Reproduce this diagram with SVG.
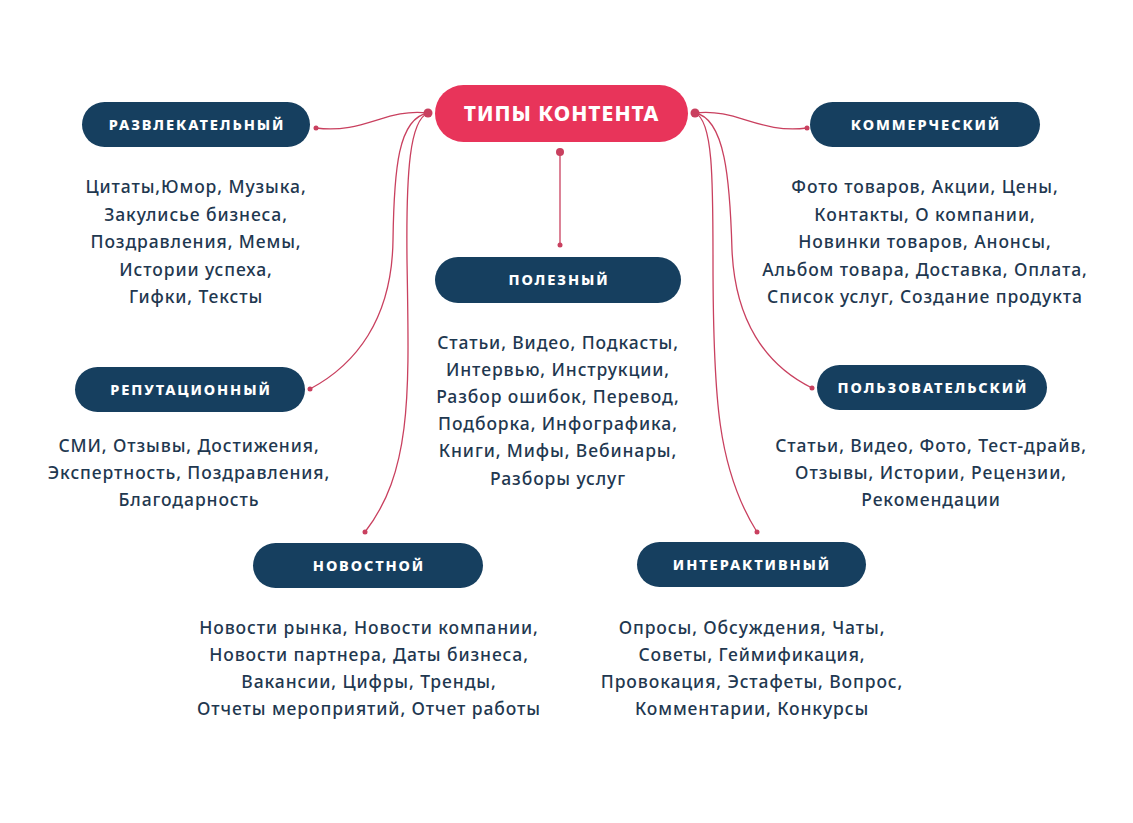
<svg xmlns="http://www.w3.org/2000/svg" width="1133" height="823" viewBox="0 0 1133 823">
<style>
.pill{fill:#163f5f}
.lbl{font-family:"Noto Sans","Liberation Sans",sans-serif;font-weight:800;font-size:14.5px;fill:#ffffff;letter-spacing:1.9px;text-anchor:middle}
.body{font-family:"Noto Sans","Liberation Sans",sans-serif;font-weight:500;font-size:17.5px;fill:#1f3850;letter-spacing:0.9px;text-anchor:middle}
.title{font-family:"Noto Sans","Liberation Sans",sans-serif;font-weight:800;font-size:21px;fill:#ffffff;letter-spacing:1px;text-anchor:middle}
.con{fill:none;stroke:#c9405f;stroke-width:1.3}
.dot{fill:#c9405f}
</style>
<rect width="1133" height="823" fill="#ffffff"/>
<g id="connectors">
<path class="con" d="M428,113 C385,108 365,134 316,128"/>
<path class="con" d="M428,113 C398,118 394,170 393,240 C392,320 355,365 310,389"/>
<path class="con" d="M428,113 C410,120 406,170 407,260 C409,390 413,470 365,532"/>
<path class="con" d="M695,113 C738,108 758,134 807,128"/>
<path class="con" d="M695,113 C725,118 730,180 732,250 C735,320 765,365 812,388"/>
<path class="con" d="M695,113 C713,120 713,180 713,260 C713,400 718,470 757,532"/>
<path class="con" d="M560,152 L560,245"/>
<circle class="dot" cx="428" cy="113" r="4.5"/>
<circle class="dot" cx="695" cy="113" r="4.5"/>
<circle class="dot" cx="560" cy="152" r="4"/>
<circle class="dot" cx="560" cy="245" r="2.5"/>
<circle class="dot" cx="316" cy="128" r="2.5"/>
<circle class="dot" cx="310" cy="389" r="2.5"/>
<circle class="dot" cx="365" cy="532" r="2.5"/>
<circle class="dot" cx="807" cy="128" r="2.5"/>
<circle class="dot" cx="812" cy="388" r="2.5"/>
<circle class="dot" cx="757" cy="532" r="2.5"/>
</g>
<g id="root">
<rect x="435" y="85" width="253" height="57" rx="28.5" fill="#e8345a"/>
<text class="title" x="561.5" y="121">ТИПЫ КОНТЕНТА</text>
</g>
<g id="entertaining">
<rect class="pill" x="82" y="102" width="228" height="45" rx="22.5"/>
<text class="lbl" x="197" y="130">РАЗВЛЕКАТЕЛЬНЫЙ</text>
<text class="body" x="196" y="193">Цитаты,Юмор, Музыка,</text>
<text class="body" x="196" y="220.5">Закулисье бизнеса,</text>
<text class="body" x="196" y="248">Поздравления, Мемы,</text>
<text class="body" x="196" y="275.5">Истории успеха,</text>
<text class="body" x="196" y="303">Гифки, Тексты</text>
</g>
<g id="commercial">
<rect class="pill" x="810" y="102" width="230" height="45" rx="22.5"/>
<text class="lbl" x="926" y="130">КОММЕРЧЕСКИЙ</text>
<text class="body" x="925" y="193">Фото товаров, Акции, Цены,</text>
<text class="body" x="925" y="220.5">Контакты, О компании,</text>
<text class="body" x="925" y="248">Новинки товаров, Анонсы,</text>
<text class="body" x="925" y="275.5">Альбом товара, Доставка, Оплата,</text>
<text class="body" x="925" y="303">Список услуг, Создание продукта</text>
</g>
<g id="useful">
<rect class="pill" x="435" y="257" width="246" height="46" rx="23"/>
<text class="lbl" x="559" y="285">ПОЛЕЗНЫЙ</text>
<text class="body" x="558" y="349">Статьи, Видео, Подкасты,</text>
<text class="body" x="558" y="376">Интервью, Инструкции,</text>
<text class="body" x="558" y="403">Разбор ошибок, Перевод,</text>
<text class="body" x="558" y="430">Подборка, Инфографика,</text>
<text class="body" x="558" y="457">Книги, Мифы, Вебинары,</text>
<text class="body" x="558" y="485">Разборы услуг</text>
</g>
<g id="reputation">
<rect class="pill" x="75" y="367" width="230" height="45" rx="22.5"/>
<text class="lbl" x="191" y="394.5">РЕПУТАЦИОННЫЙ</text>
<text class="body" x="189" y="452">СМИ, Отзывы, Достижения,</text>
<text class="body" x="189" y="479">Экспертность, Поздравления,</text>
<text class="body" x="189" y="506">Благодарность</text>
</g>
<g id="user">
<rect class="pill" x="817" y="365" width="230" height="45" rx="22.5"/>
<text class="lbl" x="933" y="392.5">ПОЛЬЗОВАТЕЛЬСКИЙ</text>
<text class="body" x="931" y="452">Статьи, Видео, Фото, Тест-драйв,</text>
<text class="body" x="931" y="479">Отзывы, Истории, Рецензии,</text>
<text class="body" x="931" y="506">Рекомендации</text>
</g>
<g id="news">
<rect class="pill" x="253" y="543" width="230" height="45" rx="22.5"/>
<text class="lbl" x="369" y="570.5">НОВОСТНОЙ</text>
<text class="body" x="369" y="634">Новости рынка, Новости компании,</text>
<text class="body" x="369" y="661">Новости партнера, Даты бизнеса,</text>
<text class="body" x="369" y="688">Вакансии, Цифры, Тренды,</text>
<text class="body" x="369" y="715">Отчеты мероприятий, Отчет работы</text>
</g>
<g id="interactive">
<rect class="pill" x="637" y="542" width="229" height="45" rx="22.5"/>
<text class="lbl" x="752" y="569.5">ИНТЕРАКТИВНЫЙ</text>
<text class="body" x="752" y="634">Опросы, Обсуждения, Чаты,</text>
<text class="body" x="752" y="661">Советы, Геймификация,</text>
<text class="body" x="752" y="688">Провокация, Эстафеты, Вопрос,</text>
<text class="body" x="752" y="715">Комментарии, Конкурсы</text>
</g>
</svg>
